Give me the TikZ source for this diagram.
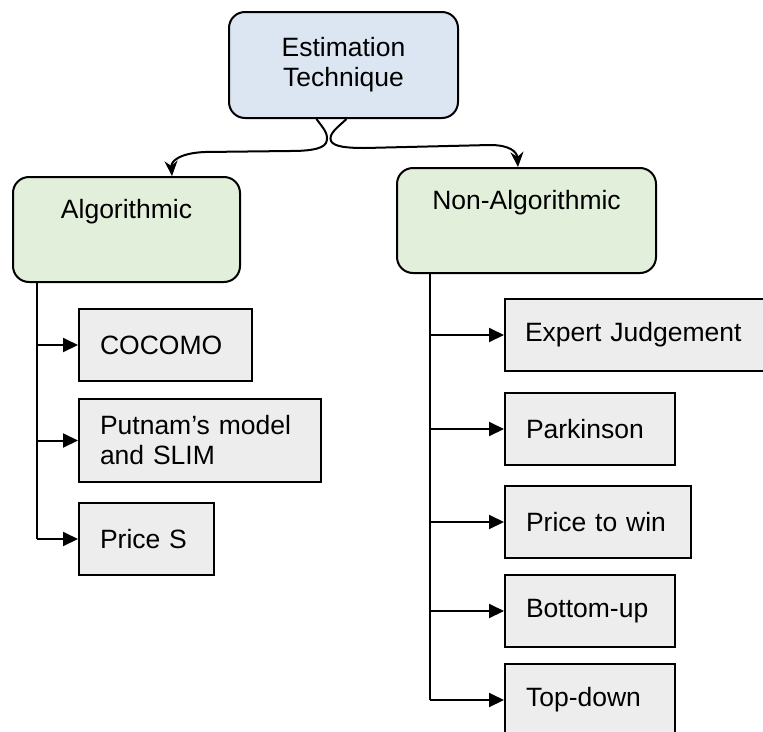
\documentclass[tikz,border=0pt]{standalone}
\usepackage{fontspec}
\setmainfont{Liberation Sans}
\usetikzlibrary{arrows.meta}
\definecolor{topblue}{RGB}{220,230,242}
\definecolor{groupgreen}{RGB}{226,239,218}
\definecolor{leafgray}{RGB}{237,237,237}
\tikzset{
	every node/.style={font=\fontsize{26.5}{30}\selectfont},
	topbox/.style={draw, line width=2pt, rounded corners=16pt, fill=topblue, align=center, minimum width=229pt, minimum height=106pt, anchor=north west},
	groupbox/.style={draw, line width=2pt, rounded corners=16pt, fill=groupgreen, align=center, minimum width=#1, inner ysep=0pt, text height=41pt, text depth=64pt, anchor=north west},
	leafbox/.style={draw, line width=2pt, fill=leafgray, align=left, text width=#1, inner xsep=21pt, minimum height=72pt, anchor=north west},
	link/.style={line width=2pt},
	branch/.style={line width=2pt, -{Triangle[length=15pt,width=14pt]}},
	curvy/.style={line width=2pt, -{Stealth[length=15pt,width=13pt]}}
}

\begin{document}
\begin{tikzpicture}[x=1pt,y=-1pt]
	\useasboundingbox (0,0) rectangle (763,731);
	
	%the boxes on top
	\node[topbox] (est) at (228,11) {Estimation\\Technique};
	\node[groupbox=227pt] (algo) at (12,176) {Algorithmic};
	\node[groupbox=259pt] (nonalgo) at (396,167) {Non-Algorithmic};
	
	%the brace below the top box
	\draw[curvy] ([xshift=-27pt]est.south) .. controls (322,127) and (330,134) .. (326,143) .. controls (322,150) and (305,151) .. (290,151) -- (205,152) .. controls (180,153) and (171,161) .. ([xshift=45.5pt]algo.north);
	\draw[curvy] ([xshift=3pt]est.south) .. controls (338,127) and (328,134) .. (331,141) .. controls (334,147) and (348,148) .. (365,148) -- (490,145) .. controls (510,145) and (517,152) .. ([xshift=-8.5pt]nonalgo.north);
	
	%algorithmic ones
	\node[leafbox=131pt] (cocomo) at (78,308) {COCOMO};
	\node[leafbox=200pt, minimum height=83pt] (putnam) at (78,398) {Putnam’s model\\and SLIM};
	\node[leafbox=93pt] (prices) at (78,502) {Price S};
	
	%non-algorithmic ones
	\node[leafbox=219pt, inner xsep=20pt] (expert) at (504,298) {Expert Judgement};
	\node[leafbox=128pt] (parkinson) at (504,392) {Parkinson};
	\node[leafbox=144pt] (pricewin) at (504,485) {Price to win};
	\node[leafbox=128pt] (bottomup) at (504,574) {Bottom-up};
	\node[leafbox=128pt] (topdown) at (504,663) {Top-down};
	
	%trunks and branches
	\coordinate (lt) at ([xshift=25pt]algo.south west);
	\coordinate (rt) at ([xshift=34pt]nonalgo.south west);
	\draw[link] (lt) -- (lt |- prices.west);
	\draw[link] (rt) -- (rt |- topdown.west);
	\foreach \n in {cocomo,putnam,prices}
		\draw[branch] (lt |- \n.west) -- (\n.west);
	\foreach \n in {expert,parkinson,pricewin,bottomup,topdown}
		\draw[branch] (rt |- \n.west) -- (\n.west);
\end{tikzpicture}
\end{document}
